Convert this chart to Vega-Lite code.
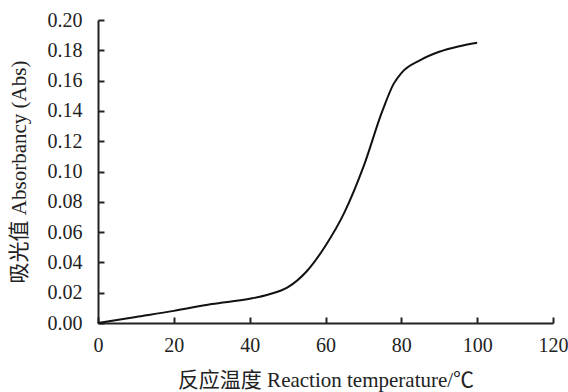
{
  "$schema": "https://vega.github.io/schema/vega-lite/v6.json",
  "autosize": "none",
  "width": 455,
  "height": 303,
  "padding": {"left": 98, "top": 20, "right": 15, "bottom": 69},
  "background": "white",
  "config": {
    "view": {"stroke": null},
    "font": "Liberation Serif, Noto Sans CJK SC",
    "axis": {
      "labelFont": "Liberation Serif",
      "labelFontSize": 20,
      "labelColor": "#222",
      "titleFont": "Liberation Serif, Noto Sans CJK SC",
      "titleFontSize": 21,
      "titleFontWeight": "normal",
      "titleColor": "#222",
      "domainColor": "#222",
      "domainWidth": 2,
      "tickColor": "#222",
      "tickWidth": 2,
      "grid": false
    }
  },
  "data": {
    "values": [
      {"t": 0, "a": 0.0},
      {"t": 10, "a": 0.004},
      {"t": 20, "a": 0.008},
      {"t": 30, "a": 0.0125},
      {"t": 40, "a": 0.016},
      {"t": 45, "a": 0.0188},
      {"t": 50, "a": 0.0235},
      {"t": 55, "a": 0.034},
      {"t": 60, "a": 0.051},
      {"t": 65, "a": 0.073},
      {"t": 70, "a": 0.103},
      {"t": 75, "a": 0.14},
      {"t": 78, "a": 0.158},
      {"t": 80, "a": 0.165},
      {"t": 85, "a": 0.1735},
      {"t": 90, "a": 0.179},
      {"t": 95, "a": 0.1825},
      {"t": 100, "a": 0.185}
    ]
  },
  "mark": {"type": "line", "interpolate": "monotone", "color": "#111", "strokeWidth": 2},
  "encoding": {
    "x": {
      "field": "t",
      "type": "quantitative",
      "scale": {"domain": [0, 120], "nice": false, "zero": true},
      "axis": {
        "title": "反应温度 Reaction temperature/℃",
        "values": [0, 20, 40, 60, 80, 100, 120],
        "tickSize": -6,
        "labelPadding": 18,
        "titlePadding": 14,
        "labelFlush": false
      }
    },
    "y": {
      "field": "a",
      "type": "quantitative",
      "scale": {"domain": [0, 0.2], "nice": false},
      "axis": {
        "title": "吸光值 Absorbancy (Abs)",
        "values": [0, 0.02, 0.04, 0.06, 0.08, 0.1, 0.12, 0.14, 0.16, 0.18, 0.2],
        "format": ".2f",
        "tickSize": -6,
        "labelPadding": 22,
        "titlePadding": 18,
        "labelFlush": false
      }
    }
  }
}
